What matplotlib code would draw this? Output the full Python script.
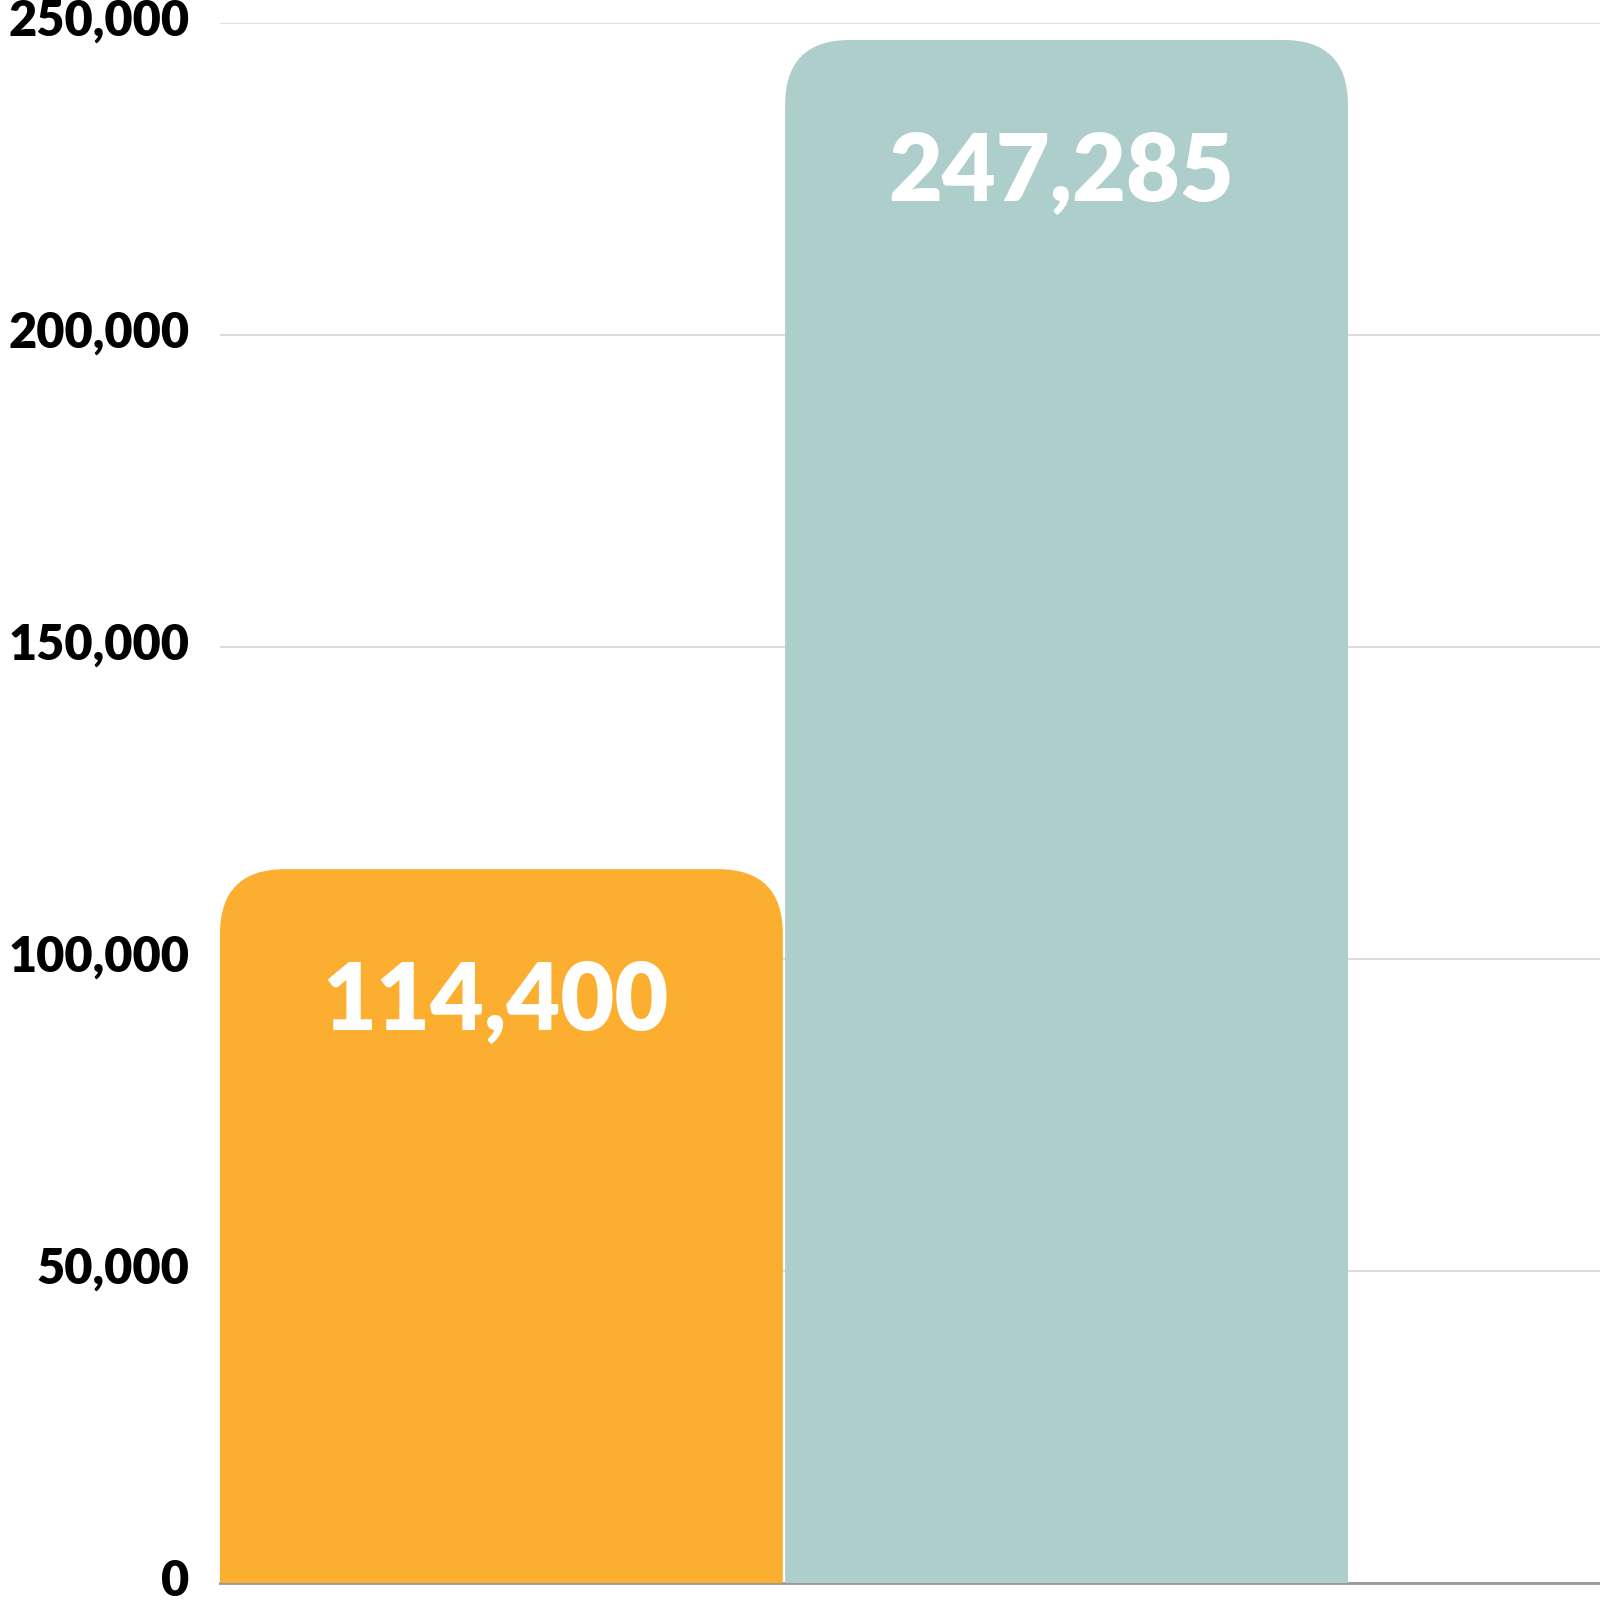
import matplotlib
matplotlib.use("Agg")
import matplotlib.pyplot as plt
import matplotlib.transforms as mtransforms
from matplotlib.patches import FancyBboxPatch
from matplotlib.ticker import FuncFormatter

# data
categories = ["A", "B"]
values = [114400, 247285]
colors = ["#FCAE30", "#AECECC"]
y_ticks = [0, 50000, 100000, 150000, 200000, 250000]

plt.rcParams['font.family'] = ['Lato', 'DejaVu Sans']

fig = plt.figure(figsize=(16, 16), dpi=100)
ax = fig.add_axes([0.1375, 0.010625, 0.8625, 0.975])

bar_width = 0.996
ax.set_xlim(-0.498, 1.944)
ax.set_ylim(0, 250000)

# rounding radius in pixels -> data units (x), aspect fixes y
fig.canvas.draw()
px_per_x = ax.transData.transform((1, 0))[0] - ax.transData.transform((0, 0))[0]
px_per_y = ax.transData.transform((0, 1))[1] - ax.transData.transform((0, 0))[1]
radius_px = 65
rx = radius_px / px_per_x
aspect = px_per_x / px_per_y

for i, (cat, val, col) in enumerate(zip(categories, values, colors)):
    # extend below zero so only the top corners show rounded
    extra = 2 * radius_px / px_per_y
    patch = FancyBboxPatch((i - bar_width / 2, -extra), bar_width, val + extra,
                           boxstyle=f"round,pad=0,rounding_size={rx}",
                           mutation_aspect=aspect, facecolor=col,
                           edgecolor="none", zorder=3, clip_on=True)
    ax.add_patch(patch)
    ax.annotate(f"{val:,}", xy=(i, val), xytext=(-4, -96),
                textcoords="offset points", ha="center", va="center",
                color="white", fontsize=67, fontweight="heavy", zorder=4)

ax.set_yticks(y_ticks)
ax.yaxis.set_major_formatter(FuncFormatter(lambda v, p: f"{int(v):,}"))
ax.tick_params(axis="y", length=0, pad=22, labelsize=35, labelcolor="black")
shift_up = mtransforms.ScaledTranslation(0, 4 / 72, fig.dpi_scale_trans)
for lab in ax.get_yticklabels():
    lab.set_fontweight("heavy")
    lab.set_transform(lab.get_transform() + shift_up)
ax.set_xticks([])
ax.grid(axis="y", color="#dddddd", linewidth=1.5, zorder=0)
ax.set_axisbelow(True)

for side in ["left", "right", "top"]:
    ax.spines[side].set_visible(False)
ax.spines["bottom"].set_color("#999999")
ax.spines["bottom"].set_linewidth(2)
ax.spines["bottom"].set_zorder(1)

fig.savefig("out.png", dpi=100)
plt.close(fig)
